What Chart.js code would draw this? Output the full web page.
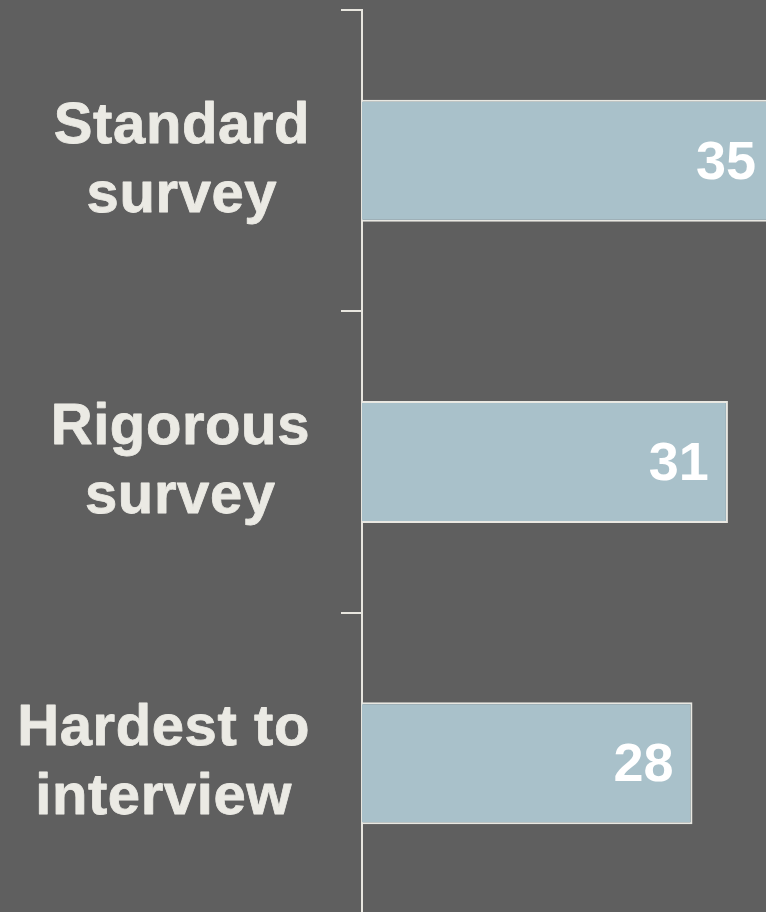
<!DOCTYPE html>
<html>
<head>
<meta charset="utf-8">
<script src="https://cdn.jsdelivr.net/npm/chart.js@4/dist/chart.umd.min.js"></script>
<style>
  html, body { margin: 0; padding: 0; background: #5f5f5f; overflow: hidden; }
  #wrap { width: 766px; height: 914px; position: relative; }
</style>
</head>
<body>
<div id="wrap"><canvas id="c"></canvas></div>
<script>
const categories = [["Standard", "survey"], ["Rigorous", "survey"], ["Hardest to", "interview"]];
const values = [35, 31, 28];
const axisMax = 34.23;

const FONT = '"Liberation Sans", Arial, sans-serif';
const LABEL_COLOR = '#ebeae4';
const LINE_COLOR = '#e8e6df';

const labelPlugin = {
  id: 'customLabels',
  afterDatasetsDraw(chart) {
    const ctx = chart.ctx;
    const yScale = chart.scales.y;
    ctx.save();
    // category labels
    ctx.font = 'bold 58px ' + FONT;
    ctx.fillStyle = LABEL_COLOR;
    ctx.strokeStyle = LABEL_COLOR;
    ctx.lineWidth = 0.8;
    ctx.lineJoin = 'round';
    ctx.textAlign = 'center';
    ctx.textBaseline = 'alphabetic';
    if ('letterSpacing' in ctx) ctx.letterSpacing = '0.6px';
    const rightEdge = 310;
    categories.forEach((lines, i) => {
      const cy = yScale.getPixelForValue(i);
      const maxW = Math.max(...lines.map(l => ctx.measureText(l).width));
      const cx = rightEdge - maxW / 2;
      lines.forEach((line, j) => {
        const yy = cy - 18 + j * 69;
        ctx.fillText(line, cx, yy);
        ctx.strokeText(line, cx, yy);
      });
    });
    // value labels
    if ('letterSpacing' in ctx) ctx.letterSpacing = '0px';
    ctx.font = 'bold 54px ' + FONT;
    ctx.fillStyle = '#ffffff';
    ctx.textAlign = 'right';
    const meta = chart.getDatasetMeta(0);
    meta.data.forEach((bar, i) => {
      ctx.fillText(String(values[i]), bar.x - 19, bar.y + 18);
    });
    ctx.restore();
  }
};

new Chart(document.getElementById('c'), {
  type: 'bar',
  data: {
    labels: categories,
    datasets: [{
      data: values,
      backgroundColor: '#a9c1ca',
      borderColor: '#e9e8e2',
      borderWidth: 2,
      barPercentage: 0.405,
      categoryPercentage: 1.0
    }]
  },
  options: {
    indexAxis: 'y',
    responsive: true,
    maintainAspectRatio: false,
    animation: false,
    layout: { padding: { top: 10, bottom: 0, left: 0, right: 0 } },
    plugins: { legend: { display: false }, tooltip: { enabled: false } },
    scales: {
      x: {
        display: false,
        min: 0,
        max: axisMax
      },
      y: {
        afterFit(scale) { scale.width = 362; },
        ticks: { display: false },
        grid: {
          offset: true,
          drawOnChartArea: false,
          drawTicks: true,
          tickLength: 21,
          color: LINE_COLOR,
          lineWidth: 2
        },
        border: { display: true, color: LINE_COLOR, width: 2 }
      }
    }
  },
  plugins: [labelPlugin]
});
</script>
</body>
</html>
